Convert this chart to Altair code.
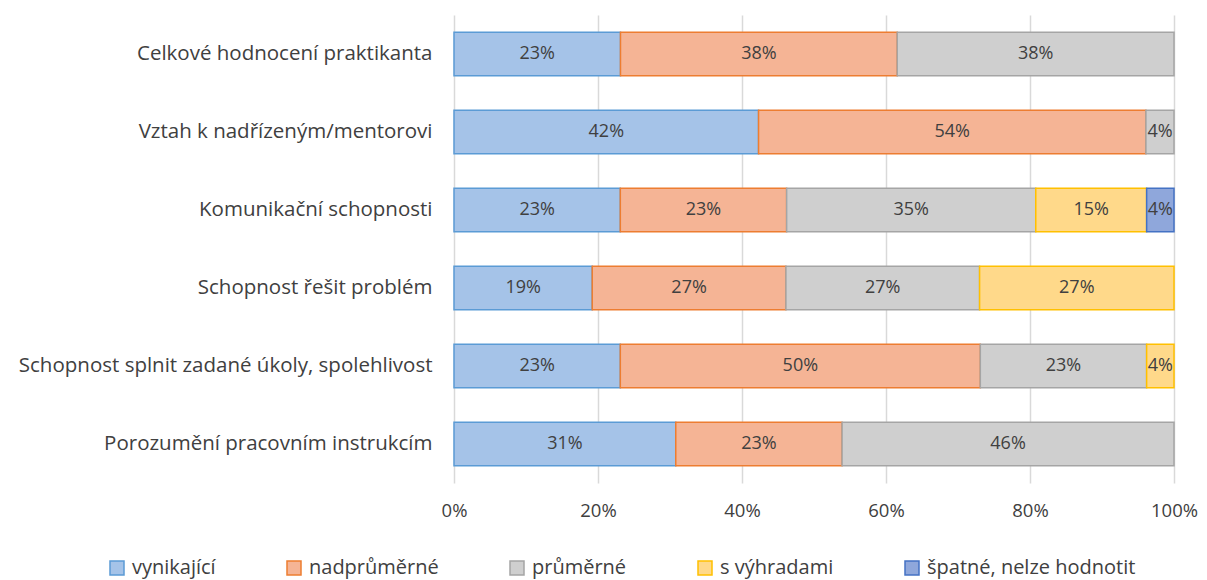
import altair as alt
import pandas as pd

categories = [
    "Celkové hodnocení praktikanta",
    "Vztah k nadřízeným/mentorovi",
    "Komunikační schopnosti",
    "Schopnost řešit problém",
    "Schopnost splnit zadané úkoly, spolehlivost",
    "Porozumění pracovním instrukcím",
]
series = ["vynikající", "nadprůměrné", "průměrné", "s výhradami", "špatné, nelze hodnotit"]

vynikajici = [23.1, 42.3, 23.1, 19.2, 23.1, 30.8]
nadprumerne = [38.4, 53.8, 23.1, 26.9, 50.0, 23.1]
prumerne = [38.4, 3.9, 34.6, 26.9, 23.1, 46.1]
s_vyhradami = [0.0, 0.0, 15.4, 27.0, 3.8, 0.0]
spatne = [0.0, 0.0, 3.8, 0.0, 0.0, 0.0]

fills = ["#A5C3E8", "#F5B495", "#CFCFCF", "#FFD98A", "#8FA7DB"]
strokes = ["#5B9BD5", "#ED7D31", "#A5A5A5", "#FFC000", "#4472C4"]

rows = []
for si, (name, vals) in enumerate(zip(series, [vynikajici, nadprumerne, prumerne, s_vyhradami, spatne])):
    for cat, v in zip(categories, vals):
        if v > 0:
            rows.append({"cat": cat, "series": name, "order": si, "v": v})
df = pd.DataFrame(rows)

FONT = "Open Sans"
TXT = "#404040"

base = alt.Chart(df).transform_stack(
    stack="v", groupby=["cat"], sort=[alt.SortField("order", "ascending")],
    offset="normalize", as_=["x0", "x1"]
).transform_calculate(
    mid="(datum.x0 + datum.x1) / 2", p="datum.v / 100"
)

yenc = alt.Y("cat:N", sort=categories, title=None,
             scale=alt.Scale(paddingInner=0.44, paddingOuter=0.22),
             axis=alt.Axis(labelFontSize=20.5, labelColor=TXT, labelFont=FONT, labelPadding=22,
                           ticks=False, domain=False, labelLimit=600))

bars = base.mark_bar(strokeWidth=1.5).encode(
    x=alt.X("x0:Q", title=None, scale=alt.Scale(domain=[0, 1], nice=False),
            axis=alt.Axis(format="%", values=[0, 0.2, 0.4, 0.6, 0.8, 1.0], labelFontSize=18.5,
                          labelColor=TXT, labelFont=FONT, labelPadding=18, ticks=False,
                          labelFlush=False, domain=False, gridColor="#D9D9D9", gridWidth=1.5)),
    x2="x1:Q",
    y=yenc,
    fill=alt.Fill("series:N", sort=series, title=None,
                  scale=alt.Scale(domain=series, range=fills)),
    stroke=alt.Stroke("series:N", sort=series, title=None,
                      scale=alt.Scale(domain=series, range=strokes)),
    order=alt.Order("order:Q"),
)

labels = base.mark_text(fontSize=18, color=TXT, font=FONT).encode(
    x="mid:Q",
    y=alt.Y("cat:N", sort=categories),
    text=alt.Text("p:Q", format=".0%"),
)

chart = (bars + labels).properties(
    width=720, height=468,
    autosize=alt.AutoSizeParams(type="none"),
    padding={"left": 446, "top": 7, "right": 25, "bottom": 97},
).configure_view(stroke=None).configure_legend(
    orient="none", legendX=-347, legendY=543, direction="horizontal",
    symbolType="square", symbolSize=196, symbolStrokeWidth=1.5,
    labelFontSize=20, labelFont=FONT, labelColor=TXT, columnPadding=68, labelOffset=5,
    labelLimit=400,
)

chart.save("out.html", embed_options={"renderer": "svg", "actions": False})
